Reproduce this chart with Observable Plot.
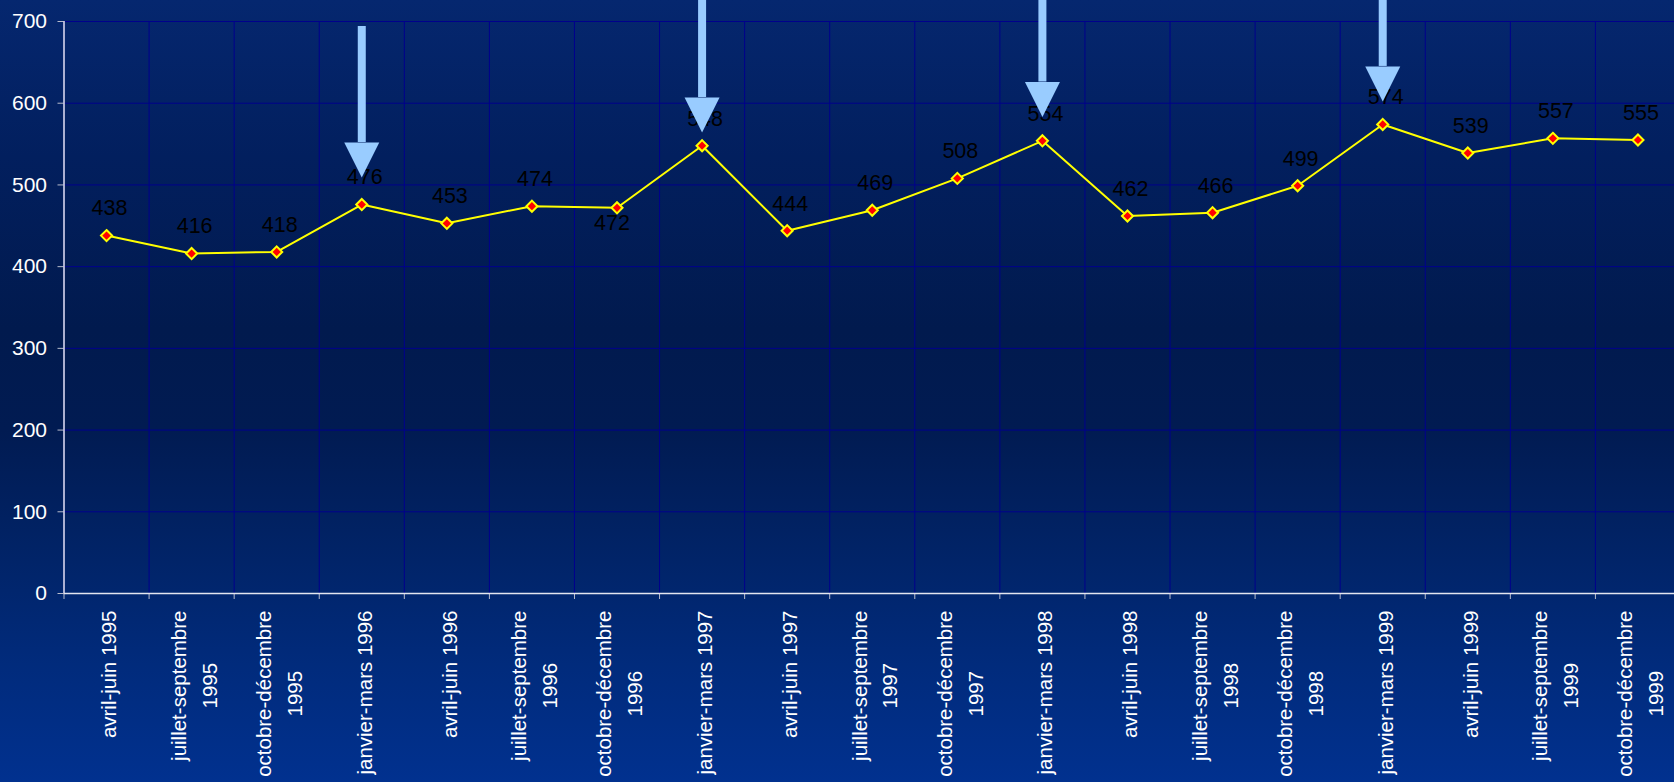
<!DOCTYPE html>
<html>
<head>
<meta charset="utf-8">
<script src="https://cdn.jsdelivr.net/npm/d3@7"></script>
<script src="https://cdn.jsdelivr.net/npm/@observablehq/plot@0.6"></script>
<style>
  html, body { margin: 0; padding: 0; width: 1674px; height: 782px; overflow: hidden; }
  body {
    background: linear-gradient(to bottom, #05276f 0%, #021f5e 20%, #011a4e 42%, #011b52 55%, #012366 70%, #012b7c 85%, #01318f 100%);
    font-family: "Liberation Sans", Arial, sans-serif;
  }
  #chart svg { display: block; max-width: none; }
</style>
</head>
<body>
<div id="chart"></div>
<script>
// ---- data ----
const categories = [
  "avril-juin 1995", "juillet-septembre\n1995", "octobre-décembre\n1995",
  "janvier-mars 1996", "avril-juin 1996", "juillet-septembre\n1996", "octobre-décembre\n1996",
  "janvier-mars 1997", "avril-juin 1997", "juillet-septembre\n1997", "octobre-décembre\n1997",
  "janvier-mars 1998", "avril-juin 1998", "juillet-septembre\n1998", "octobre-décembre\n1998",
  "janvier-mars 1999", "avril-juin 1999", "juillet-septembre\n1999", "octobre-décembre\n1999"
];
const values = [438, 416, 418, 476, 453, 474, 472, 548, 444, 469, 508, 554, 462, 466, 499, 574, 539, 557, 555];
const yTicks = [0, 100, 200, 300, 400, 500, 600, 700];
const labelsBelow = ["octobre-décembre\n1996"];
// highlighted quarters (arrows): top of shaft and top of arrow head, in chart units
const arrowCategories = ["janvier-mars 1996", "janvier-mars 1997", "janvier-mars 1998", "janvier-mars 1999"];
const arrowShaftTop = [694, 730, 730, 730];
const arrowHeadTop = [552, 607, 626, 645];

// ---- tables ----
const rows = categories.map((c, i) => ({i, label: c, value: values[i], below: labelsBelow.includes(c)}));
const arrows = arrowCategories.map((c, k) => ({i: categories.indexOf(c), shaftTop: arrowShaftTop[k], headTop: arrowHeadTop[k]}));
const boundaries = d3.range(categories.length + 1).map(i => i - 0.5);

const FONT = "Liberation Sans, Arial, sans-serif";
const FS = 20.5;
const ctx = document.createElement("canvas").getContext("2d");
ctx.font = `${FS}px "Liberation Sans"`;
const halfWidth = s => d3.max(s.split("\n"), l => ctx.measureText(l).width) / 2;

const arrowHead = {
  draw(context) {
    context.moveTo(-17.5, 0);
    context.lineTo(17.5, 0);
    context.lineTo(0, 35);
    context.closePath();
  }
};

// rotated category labels: top-aligned under the axis, lines centred on each other
const xLabelMarks = rows.map(r =>
  Plot.text([r], {
    x: "i", text: "label", frameAnchor: "bottom",
    dy: 17 + halfWidth(r.label), rotate: -90,
    textAnchor: "middle", lineAnchor: "middle", lineHeight: 1.5,
    fill: "white", fontSize: FS
  })
);

const chart = Plot.plot({
  width: 1680,
  height: 782,
  marginLeft: 63.5,
  marginRight: 0,
  marginTop: 21,
  marginBottom: 189,
  style: {background: "transparent", color: "white", fontFamily: FONT, fontSize: FS + "px", maxWidth: "none"},
  x: {type: "linear", domain: [-0.5, categories.length - 0.5]},
  y: {domain: [0, 700]},
  marks: [
    Plot.gridX(boundaries, {stroke: "#00008c", strokeOpacity: 1}),
    Plot.gridY(yTicks, {stroke: "#00008c", strokeOpacity: 1}),
    Plot.axisY(yTicks, {tickSize: 6, tickPadding: 11, stroke: "#b8bccc", fill: "white", fontSize: 21, label: null, tickFormat: d => String(d)}),
    Plot.axisX(boundaries, {tickSize: 6, stroke: "#b8bccc", tickFormat: () => "", label: null}),
    Plot.ruleY([0], {stroke: "#e4e6f0", strokeWidth: 1.5}),
    Plot.ruleX([-0.5], {stroke: "#e4e6f0", strokeWidth: 1.5}),
    ...xLabelMarks,
    Plot.line(rows, {x: "i", y: "value", stroke: "#ffff00", strokeWidth: 2}),
    Plot.dot(rows, {x: "i", y: "value", symbol: "diamond2", r: 5, fill: "#ff0000", stroke: "#ffff00", strokeWidth: 2}),
    Plot.text(rows.filter(d => !d.below), {x: "i", y: "value", text: d => String(d.value), dy: -27, dx: 3, fill: "black", fontSize: 21.5}),
    Plot.text(rows.filter(d => d.below), {x: "i", y: "value", text: d => String(d.value), dy: 15, dx: -5, fill: "black", fontSize: 21.5}),
    Plot.ruleX(arrows, {x: "i", y1: "shaftTop", y2: "headTop", stroke: "#99ccff", strokeWidth: 8}),
    Plot.dot(arrows, {x: "i", y: "headTop", symbol: arrowHead, r: 10, fill: "#99ccff", stroke: "none"})
  ]
});
document.getElementById("chart").appendChild(chart);
</script>
</body>
</html>
